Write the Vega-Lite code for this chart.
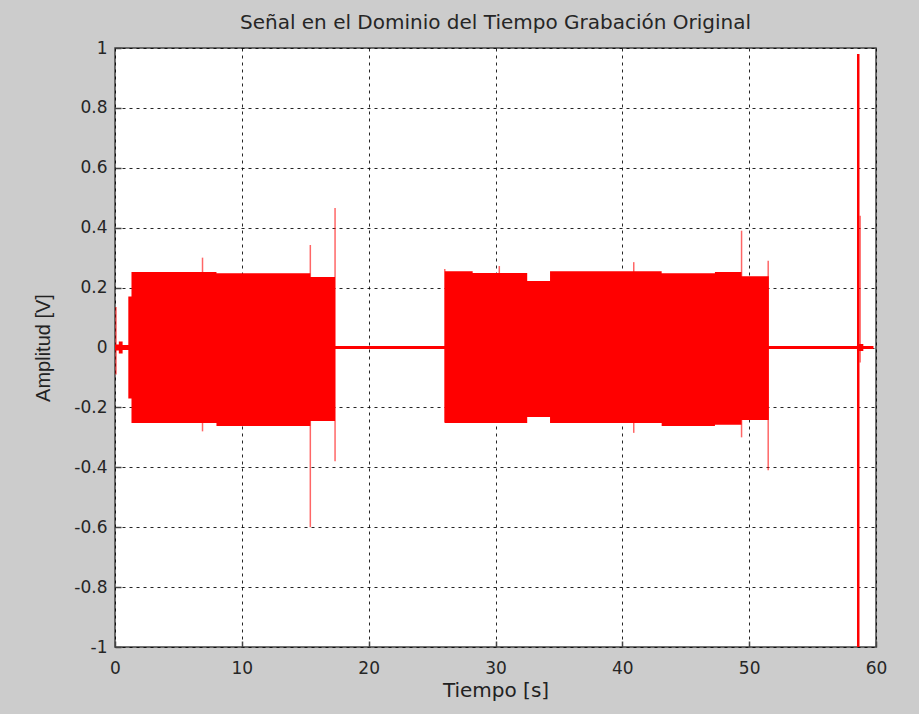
{
  "$schema": "https://vega.github.io/schema/vega-lite/v6.json",
  "width": 761,
  "height": 599,
  "autosize": {"type": "none"},
  "padding": {"left": 115, "top": 48, "right": 43, "bottom": 67},
  "background": "#cccccc",
  "title": {
    "text": "Señal en el Dominio del Tiempo Grabación Original",
    "font": "DejaVu Sans",
    "fontSize": 20,
    "fontWeight": "normal",
    "color": "#262626",
    "anchor": "middle",
    "offset": 6
  },
  "config": {
    "view": {"fill": "white", "stroke": "#444444", "strokeWidth": 1.5},
    "axis": {
      "labelFont": "DejaVu Sans",
      "labelFontSize": 17,
      "labelColor": "#262626",
      "titleFont": "DejaVu Sans",
      "titleFontSize": 20,
      "titleFontWeight": "normal",
      "titleColor": "#222222",
      "grid": true,
      "gridColor": "#000000",
      "gridDash": [3, 4],
      "gridOpacity": 0.85,
      "gridWidth": 1,
      "domain": false,
      "ticks": true,
      "tickColor": "#444444",
      "tickSize": -6,
      "tickWidth": 1.5,
      "labelFlush": false
    }
  },
  "datasets": {
    "env": [
      {"t": 0, "hi": 0.01, "lo": -0.01},
      {"t": 0.3, "hi": 0.02, "lo": -0.02},
      {"t": 0.6, "hi": 0.008, "lo": -0.008},
      {"t": 1.05, "hi": 0.17, "lo": -0.17},
      {"t": 1.3, "hi": 0.252, "lo": -0.252},
      {"t": 8.0, "hi": 0.248, "lo": -0.262},
      {"t": 15.4, "hi": 0.235, "lo": -0.245},
      {"t": 17.35, "hi": 0.005, "lo": -0.005},
      {"t": 26.0, "hi": 0.255, "lo": -0.252},
      {"t": 28.2, "hi": 0.249, "lo": -0.252},
      {"t": 32.5, "hi": 0.222, "lo": -0.232},
      {"t": 34.3, "hi": 0.255, "lo": -0.252},
      {"t": 43.1, "hi": 0.248, "lo": -0.262},
      {"t": 47.3, "hi": 0.252, "lo": -0.258},
      {"t": 49.4, "hi": 0.238, "lo": -0.242},
      {"t": 51.55, "hi": 0.005, "lo": -0.005},
      {"t": 58.5, "hi": 0.012, "lo": -0.012},
      {"t": 59.0, "hi": 0.005, "lo": -0.005},
      {"t": 59.8, "hi": 0.005, "lo": -0.005}
    ],
    "spikes": [
      {"t": 0.08, "hi": 0.135, "lo": -0.09},
      {"t": 6.9, "hi": 0.3, "lo": -0.28},
      {"t": 15.4, "hi": 0.342, "lo": -0.6},
      {"t": 17.35, "hi": 0.466, "lo": -0.38},
      {"t": 26.0, "hi": 0.262, "lo": -0.25},
      {"t": 30.3, "hi": 0.272, "lo": -0.25},
      {"t": 40.9, "hi": 0.285, "lo": -0.285},
      {"t": 49.4, "hi": 0.39, "lo": -0.3},
      {"t": 51.5, "hi": 0.29, "lo": -0.41},
      {"t": 58.75, "hi": 0.44, "lo": -0.05}
    ],
    "mainSpike": [
      {"t": 58.6, "hi": 0.98, "lo": -1.0}
    ]
  },
  "layer": [
    {
      "data": {"name": "env"},
      "mark": {"type": "area", "interpolate": "step-after", "color": "#ff0000", "opacity": 1},
      "encoding": {
        "x": {
          "field": "t",
          "type": "quantitative",
          "scale": {"domain": [0, 60], "nice": false, "zero": false},
          "axis": {
            "values": [0, 10, 20, 30, 40, 50, 60],
            "title": "Tiempo [s]",
            "labelPadding": 19,
            "titlePadding": 4
          }
        },
        "y": {
          "field": "hi",
          "type": "quantitative",
          "scale": {"domain": [-1, 1], "nice": false, "zero": false},
          "axis": {
            "values": [-1, -0.8, -0.6, -0.4, -0.2, 0, 0.2, 0.4, 0.6, 0.8, 1],
            "labelExpr": "'' + (round(datum.value * 10) / 10)",
            "title": "Amplitud [V]",
            "titleFont": "Liberation Sans",
            "titleFontSize": 20,
            "labelPadding": 14,
            "titlePadding": 20
          }
        },
        "y2": {"field": "lo"}
      }
    },
    {
      "data": {"name": "spikes"},
      "mark": {"type": "rule", "color": "#ff0000", "opacity": 0.6, "strokeWidth": 1.5},
      "encoding": {
        "x": {"field": "t", "type": "quantitative"},
        "y": {"field": "hi", "type": "quantitative"},
        "y2": {"field": "lo"}
      }
    },
    {
      "data": {"name": "mainSpike"},
      "mark": {"type": "rule", "color": "#ff0000", "opacity": 1, "strokeWidth": 2.5},
      "encoding": {
        "x": {"field": "t", "type": "quantitative"},
        "y": {"field": "hi", "type": "quantitative"},
        "y2": {"field": "lo"}
      }
    }
  ]
}
